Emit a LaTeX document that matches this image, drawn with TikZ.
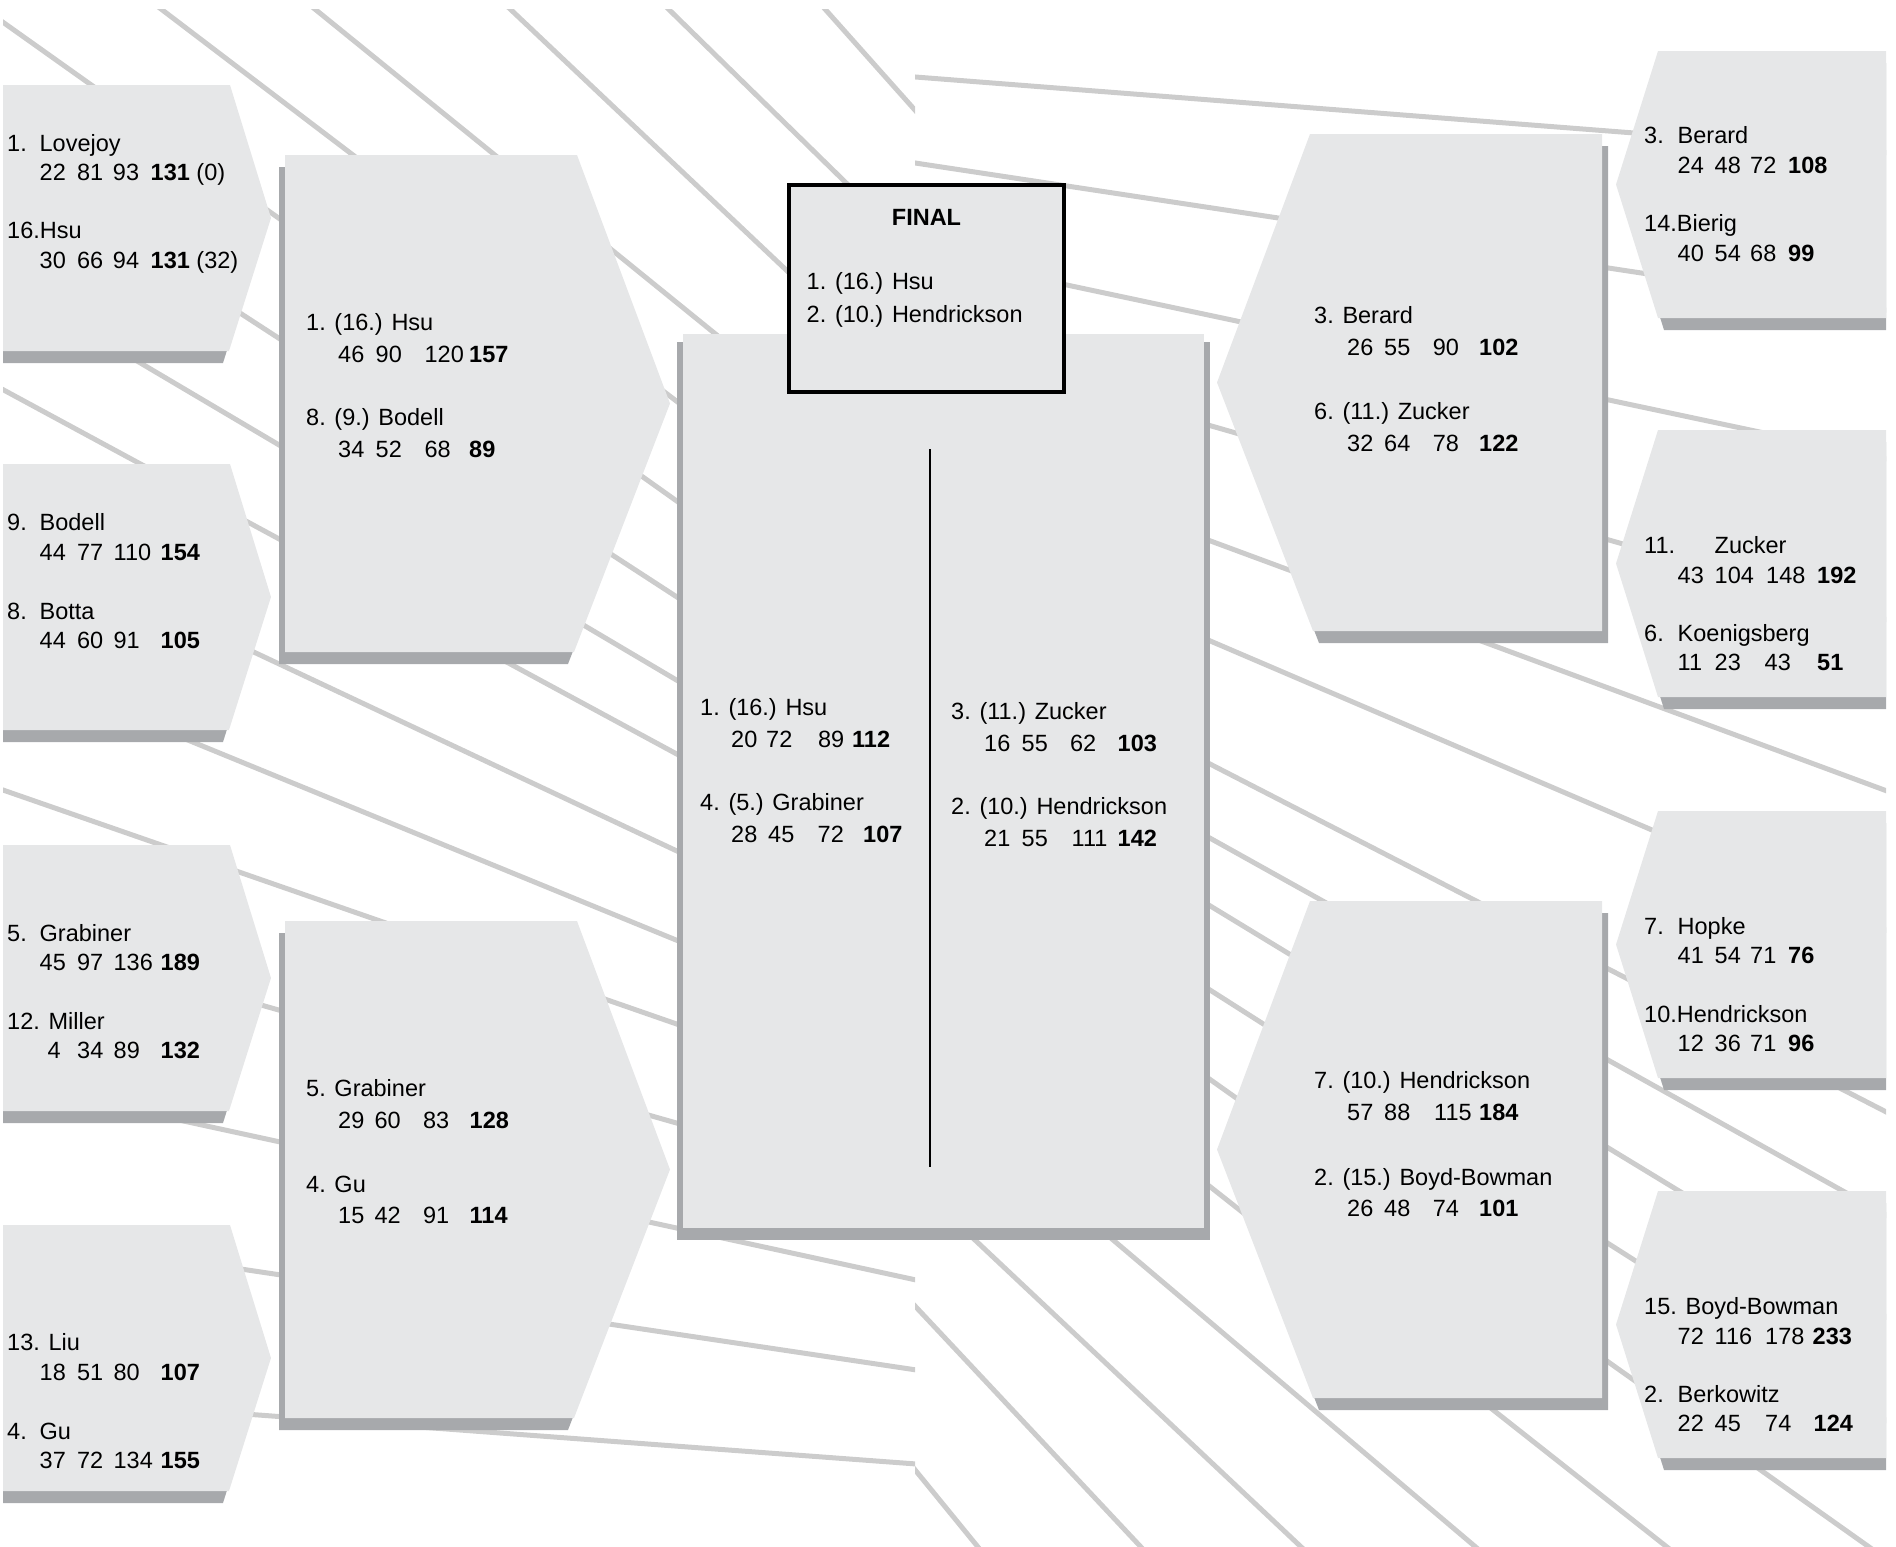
\documentclass[tikz,border=0pt]{standalone}
\usepackage{fontspec}
\setmainfont{Liberation Sans}
\definecolor{panel}{HTML}{E6E7E8}
\definecolor{panelshadow}{HTML}{A7A9AC}
\definecolor{raygray}{HTML}{CCCCCC}
\newcommand\pts[7]{\makebox[#1pt][l]{#4}\makebox[#2pt][l]{#5}\makebox[#3pt][l]{#6}\textbf{#7}}
\newcommand\lbl[2]{\makebox[#1pt][l]{#2}}

\begin{document}
\begin{tikzpicture}[x=1pt,y=-1pt,
		font=\fontsize{23.5}{28}\selectfont,
		ray line/.style={draw=raygray,line width=5pt},
		box/.style={fill=panel},
		drop/.style={fill=panelshadow},
		entry/.style={anchor=west,inner sep=0pt,text height=17pt,text depth=0pt}]

		\useasboundingbox (0,0) rectangle (1896,1547);

		% rays behind the left half
		\begin{scope}
		\clip (3,9) rectangle (915,1547);
		\draw[ray line] (800,-19) -- (930,127);
		\draw[ray line] (650,-9) -- (930,265);
		\draw[ray line] (490,-10) -- (930,406);
		\draw[ray line] (300,-3) -- (930,508);
		\draw[ray line] (140,-7) -- (930,594);
		\draw[ray line] (-10,13) -- (930,681);
		\draw[ray line] (-10,150.5) -- (930,761.5);
		\draw[ray line] (-10,274) -- (930,830);
		\draw[ray line] (-10,382.6) -- (930,891);
		\draw[ray line] (-10,528) -- (930,970);
		\draw[ray line] (-10,659) -- (930,1044);
		\draw[ray line] (-10,785.5) -- (930,1112);
		\draw[ray line] (-10,928) -- (930,1195);
		\draw[ray line] (-10,1079) -- (930,1283);
		\draw[ray line] (-10,1231.5) -- (930,1372);
		\draw[ray line] (-10,1395) -- (930,1465);
		\end{scope}

		% rays behind the right half
		\begin{scope}
		\clip (915,9) rectangle (1886,1547);
		\draw[ray line] (900,75.8) -- (1910,154.5);
		\draw[ray line] (900,160.7) -- (1910,313.7);
		\draw[ray line] (900,249.6) -- (1910,463.9);
		\draw[ray line] (900,336.7) -- (1910,626.3);
		\draw[ray line] (900,426.2) -- (1910,799.5);
		\draw[ray line] (900,508.2) -- (1910,940.4);
		\draw[ray line] (900,604.5) -- (1910,1124.2);
		\draw[ray line] (900,665.3) -- (1910,1228.4);
		\draw[ray line] (900,717.3) -- (1910,1331.4);
		\draw[ray line] (900,792.7) -- (1910,1435.6);
		\draw[ray line] (900,859.5) -- (1910,1576);
		\draw[ray line] (900,942.1) -- (1910,1738.7);
		\draw[ray line] (900,1169.4) -- (1400,1640);
		\draw[ray line] (900,1059.5) -- (1700,1737);
		\draw[ray line] (900,1290) -- (1200,1610);
		\draw[ray line] (900,1451.4) -- (1000,1574);
		\end{scope}

		\begin{scope}
		\clip (3,0) rectangle (1886,1547);
		% first round, left
		\fill[drop,shift={(0,85)}] (-3,12) -- (224,12) -- (265,145) -- (223,278) -- (-3,278) -- cycle;
		\fill[box,shift={(0,85)}] (3,0) -- (230,0) -- (271,133) -- (229,266) -- (3,266) -- cycle;
		\fill[drop,shift={(0,464)}] (-3,12) -- (224,12) -- (265,145) -- (223,278) -- (-3,278) -- cycle;
		\fill[box,shift={(0,464)}] (3,0) -- (230,0) -- (271,133) -- (229,266) -- (3,266) -- cycle;
		\fill[drop,shift={(0,845)}] (-3,12) -- (224,12) -- (265,145) -- (223,278) -- (-3,278) -- cycle;
		\fill[box,shift={(0,845)}] (3,0) -- (230,0) -- (271,133) -- (229,266) -- (3,266) -- cycle;
		\fill[drop,shift={(0,1225)}] (-3,12) -- (224,12) -- (265,145) -- (223,278) -- (-3,278) -- cycle;
		\fill[box,shift={(0,1225)}] (3,0) -- (230,0) -- (271,133) -- (229,266) -- (3,266) -- cycle;
		% second round, left
		\fill[drop,shift={(0,155)}] (279,12) -- (571,12) -- (664,260.5) -- (568,509) -- (279,509) -- cycle;
		\fill[box,shift={(0,155)}] (285,0) -- (577,0) -- (670,248.5) -- (574,497) -- (285,497) -- cycle;
		\fill[drop,shift={(0,921)}] (279,12) -- (571,12) -- (664,260.5) -- (568,509) -- (279,509) -- cycle;
		\fill[box,shift={(0,921)}] (285,0) -- (577,0) -- (670,248.5) -- (574,497) -- (285,497) -- cycle;
		% semi-finals
		\fill[drop] (677,342) rectangle (915,1240);
		\fill[drop] (915,342) rectangle (1210,1240);
		\fill[box] (683,334) rectangle (1204,1228);
		% second round, right
		\fill[drop,shift={(0,134)}] (1608,12) -- (1316,12) -- (1223,260.5) -- (1319,509) -- (1608,509) -- cycle;
		\fill[box,shift={(0,134)}] (1602,0) -- (1310,0) -- (1217,248.5) -- (1313,497) -- (1602,497) -- cycle;
		\fill[drop,shift={(0,901)}] (1608,12) -- (1316,12) -- (1223,260.5) -- (1319,509) -- (1608,509) -- cycle;
		\fill[box,shift={(0,901)}] (1602,0) -- (1310,0) -- (1217,248.5) -- (1313,497) -- (1602,497) -- cycle;
		% first round, right
		\fill[drop,shift={(0,51)}] (1892,12) -- (1664,12) -- (1622,145.5) -- (1664,279) -- (1892,279) -- cycle;
		\fill[box,shift={(0,51)}] (1886,0) -- (1658,0) -- (1616,133.5) -- (1658,267) -- (1886,267) -- cycle;
		\fill[drop,shift={(0,430)}] (1892,12) -- (1664,12) -- (1622,145.5) -- (1664,279) -- (1892,279) -- cycle;
		\fill[box,shift={(0,430)}] (1886,0) -- (1658,0) -- (1616,133.5) -- (1658,267) -- (1886,267) -- cycle;
		\fill[drop,shift={(0,811)}] (1892,12) -- (1664,12) -- (1622,145.5) -- (1664,279) -- (1892,279) -- cycle;
		\fill[box,shift={(0,811)}] (1886,0) -- (1658,0) -- (1616,133.5) -- (1658,267) -- (1886,267) -- cycle;
		\fill[drop,shift={(0,1191)}] (1892,12) -- (1664,12) -- (1622,145.5) -- (1664,279) -- (1892,279) -- cycle;
		\fill[box,shift={(0,1191)}] (1886,0) -- (1658,0) -- (1616,133.5) -- (1658,267) -- (1886,267) -- cycle;
		\end{scope}

		% final
		\draw[box,line width=4.5pt] (789,185) rectangle (1064,392);
		\draw[line width=2.5pt] (930,449) -- (930,1167);

		\node[entry] (lovejoy) at (7,143) {\lbl{32.5}{1.}Lovejoy};
		\node[entry] (lovejoy-s) at (39.5,172) {\pts{37.5}{35.8}{37.7}{22}{81}{93}{131} (0)};
		\node[entry] (hsu1) at (7,230) {16.Hsu};
		\node[entry] (hsu1-s) at (39.5,260) {\pts{37.5}{35.8}{37.7}{30}{66}{94}{131} (32)};
		\node[entry] (bodell1) at (7,522) {\lbl{32.5}{9.}Bodell};
		\node[entry] (bodell1-s) at (39.5,552) {\pts{37.5}{36.5}{47}{44}{77}{110}{154}};
		\node[entry] (botta) at (7,611) {\lbl{32.5}{8.}Botta};
		\node[entry] (botta-s) at (39.5,640) {\pts{37.5}{36.5}{47}{44}{60}{91}{105}};
		\node[entry] (grabiner1) at (7,932.5) {\lbl{32.5}{5.}Grabiner};
		\node[entry] (grabiner1-s) at (39.5,962) {\pts{37.5}{36.5}{47}{45}{97}{136}{189}};
		\node[entry] (miller) at (7,1021) {12. Miller};
		\node[entry] (miller-s) at (39.5,1050) {\pts{37.5}{36.5}{47}{\hspace*{8pt}4}{34}{89}{132}};
		\node[entry] (liu) at (7,1342) {13. Liu};
		\node[entry] (liu-s) at (39.5,1372) {\pts{37.5}{36.5}{47}{18}{51}{80}{107}};
		\node[entry] (gu1) at (7,1430.5) {\lbl{32.5}{4.}Gu};
		\node[entry] (gu1-s) at (39.5,1460) {\pts{37.5}{36.5}{47}{37}{72}{134}{155}};

		\node[entry] (hsu2) at (306,322) {1. (16.) Hsu};
		\node[entry] (hsu2-s) at (338,354) {\pts{37.5}{49}{44.5}{46}{90}{120}{157}};
		\node[entry] (bodell2) at (306,417) {8. (9.) Bodell};
		\node[entry] (bodell2-s) at (338,449) {\pts{37.5}{49}{44.5}{34}{52}{68}{89}};
		\node[entry] (grabiner2) at (306,1087.5) {5. Grabiner};
		\node[entry] (grabiner2-s) at (338,1120) {\pts{36.5}{48.5}{46.5}{29}{60}{83}{128}};
		\node[entry] (gu2) at (306,1184) {4. Gu};
		\node[entry] (gu2-s) at (338,1214.5) {\pts{36.5}{48.5}{46.5}{15}{42}{91}{114}};

		\node[entry] (hsu3) at (700,706.5) {1. (16.) Hsu};
		\node[entry] (hsu3-s) at (731,739) {\pts{35}{52}{34}{20}{72}{89}{112}};
		\node[entry] (grabiner3) at (700,802) {4. (5.) Grabiner};
		\node[entry] (grabiner3-s) at (731,833.5) {\pts{37}{49.5}{45.5}{28}{45}{72}{107}};
		\node[entry] (zucker3) at (951,710.5) {3. (11.) Zucker};
		\node[entry] (zucker3-s) at (984,743) {\pts{37.5}{48.5}{47.5}{16}{55}{62}{103}};
		\node[entry] (hendrickson3) at (951,806) {2. (10.) Hendrickson};
		\node[entry] (hendrickson3-s) at (984,838) {\pts{37.5}{50}{46}{21}{55}{111}{142}};

		\node[entry,anchor=center,font=\fontsize{23.5}{28}\selectfont\bfseries] (final) at (926.5,216.5) {FINAL};
		\node[entry] (hsu4) at (806.5,281) {1. (16.) Hsu};
		\node[entry] (hendrickson4) at (806.5,313.5) {2. (10.) Hendrickson};

		\node[entry] (berard2) at (1314,314.5) {3. Berard};
		\node[entry] (berard2-s) at (1347,347) {\pts{37}{48.7}{46.3}{26}{55}{90}{102}};
		\node[entry] (zucker2) at (1314,411) {6. (11.) Zucker};
		\node[entry] (zucker2-s) at (1347,443) {\pts{37}{48.7}{46.3}{32}{64}{78}{122}};
		\node[entry] (hendrickson2) at (1314,1080) {7. (10.) Hendrickson};
		\node[entry] (hendrickson2-s) at (1347,1112) {\pts{37}{50}{45}{57}{88}{115}{184}};
		\node[entry] (boydbowman2) at (1314,1176.5) {2. (15.) Boyd-Bowman};
		\node[entry] (boydbowman2-s) at (1347,1208) {\pts{37}{48.7}{46.3}{26}{48}{74}{101}};

		\node[entry] (berard1) at (1644,135) {\lbl{33.5}{3.}Berard};
		\node[entry] (berard1-s) at (1677.5,165) {\pts{37}{35.5}{38}{24}{48}{72}{108}};
		\node[entry] (bierig) at (1644,223) {14.Bierig};
		\node[entry] (bierig-s) at (1677.5,253) {\pts{37}{35.5}{38}{40}{54}{68}{99}};
		\node[entry] (zucker1) at (1644,545) {\lbl{70.5}{11.}Zucker};
		\node[entry] (zucker1-s) at (1677.5,575) {\pts{37}{51.5}{51}{43}{104}{148}{192}};
		\node[entry] (koenigsberg) at (1644,633) {\lbl{33.5}{6.}Koenigsberg};
		\node[entry] (koenigsberg-s) at (1677.5,662) {\pts{37}{50}{52.5}{11}{23}{43}{51}};
		\node[entry] (hopke) at (1644,926) {\lbl{33.5}{7.}Hopke};
		\node[entry] (hopke-s) at (1677.5,955) {\pts{37}{35.5}{38}{41}{54}{71}{76}};
		\node[entry] (hendrickson1) at (1644,1014) {10.Hendrickson};
		\node[entry] (hendrickson1-s) at (1677.5,1043) {\pts{37}{35.5}{38}{12}{36}{71}{96}};
		\node[entry] (boydbowman1) at (1644,1306) {15. Boyd-Bowman};
		\node[entry] (boydbowman1-s) at (1677.5,1336) {\pts{37}{50.5}{47.5}{72}{116}{178}{233}};
		\node[entry] (berkowitz) at (1644,1393.5) {\lbl{33.5}{2.}Berkowitz};
		\node[entry] (berkowitz-s) at (1677.5,1423) {\pts{37}{50.5}{48.5}{22}{45}{74}{124}};
		\end{tikzpicture}
\end{document}
